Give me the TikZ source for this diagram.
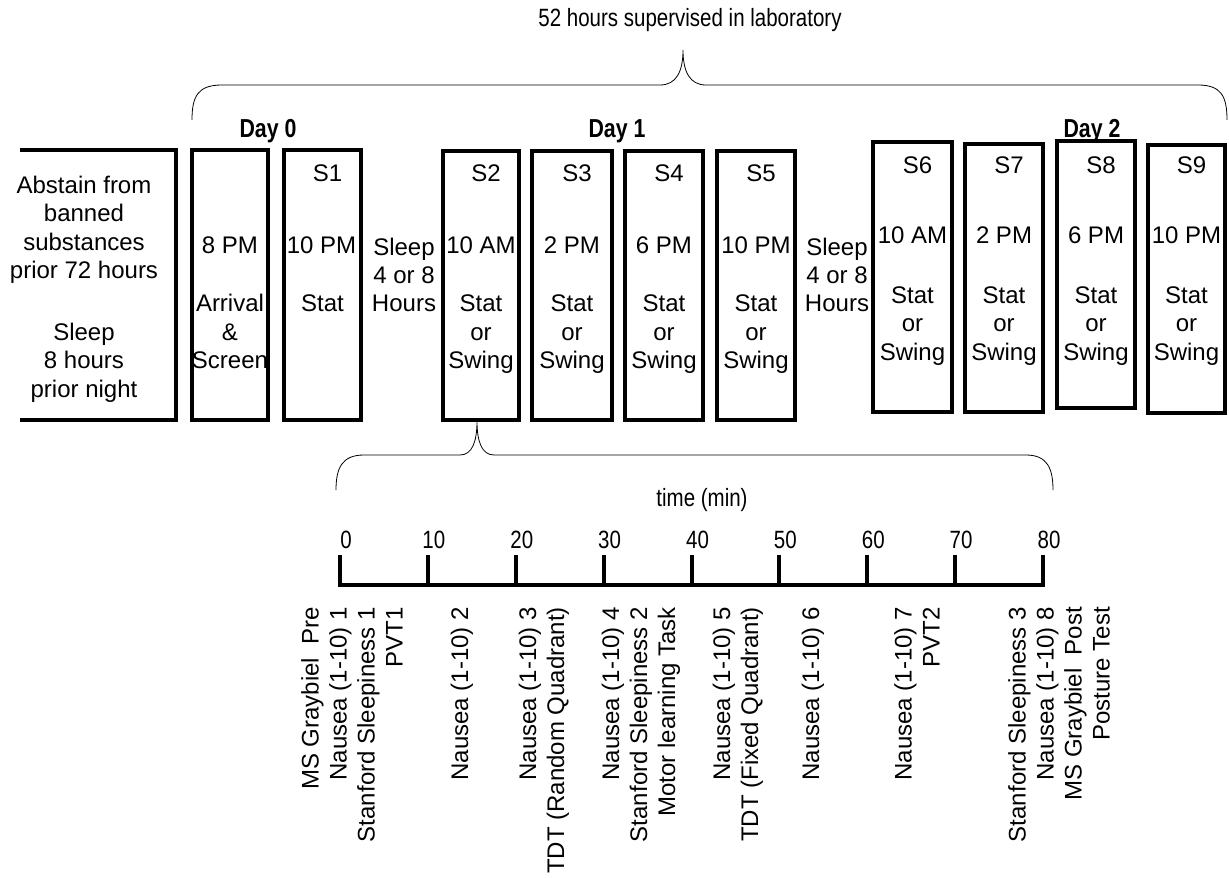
\documentclass[tikz,border=0pt]{standalone}
\usepackage{fontspec}
\setmainfont{Liberation Sans}
\newfontfamily\narrowfont[FakeStretch=0.82]{Liberation Sans}
\begin{document}
\begin{tikzpicture}[x=1pt,y=-1pt,
  sbox/.style={draw, line width=4pt, inner sep=0pt},
  txt/.style={inner sep=0pt, anchor=base, font=\fontsize{24}{28}\selectfont},
  nar/.style={inner sep=0pt, anchor=base, font=\narrowfont\fontsize{25}{28}\selectfont},
  dayl/.style={inner sep=0pt, anchor=base, font=\narrowfont\bfseries\fontsize{26}{28}\selectfont},
  rlab/.style={inner sep=0pt, rotate=90, anchor=east, align=right, font=\fontsize{24}{28}\selectfont},
  brace/.style={line width=0.8pt},
  tickline/.style={line width=4pt}]
\useasboundingbox (0,0) rectangle (1229,878);

% title and upper brace
\node[nar, font=\narrowfont\fontsize{25}{28}\selectfont] (title) at (690,27) {52 hours supervised in laboratory};
\coordinate (utip) at (683,50);
\draw[brace] (192,120) .. controls (192,96) and (198,85) .. (222,85) -- (660,85)
  .. controls (676,85) and (683,72) .. (utip)
  .. controls (683,72) and (690,85) .. (706,85) -- (1198,85)
  .. controls (1221,85) and (1227,96) .. (1227,120);

% day labels
\node[dayl] (day0) at (268,137) {Day 0};
\node[dayl] (day1) at (617,137) {Day 1};
\node[dayl] (day2) at (1092,137) {Day 2};

% pre-study box (open on the left)
\draw[line width=4pt] (20,150) -- (176,150) -- (176,420) -- (20,420);
\foreach \t [count=\i] in {Abstain from, banned, substances, prior 72 hours}
  \node[txt] (pre-\i) at (84,{193+28.5*(\i-1)}) {\t};
\foreach \t [count=\i] in {Sleep, 8 hours, prior night}
  \node[txt] (pn-\i) at (84,{340+28.5*(\i-1)}) {\t};

% arrival box
\node[sbox, minimum width=76pt, minimum height=270pt] (b0) at (230,285) {};
\node[txt] (b0-tm) at (230,253) {8 PM};
\node[txt] (b0-a) at (230,311) {Arrival};
\node[txt] (b0-b) at (230,340) {\&};
\node[txt] (b0-c) at (230,368) {Screen};

% S1
\node[sbox, minimum width=77pt, minimum height=270pt] (s1) at (322.5,285) {};
\node[txt] (s1-id) at (327.5,181) {S1};
\node[txt] (s1-tm) at (321.5,253) {10 PM};
\node[txt] (s1-a) at (322.5,311) {Stat};

% sleep 1
\foreach \t [count=\i] in {Sleep, 4 or 8, Hours}
  \node[txt] (sl1-\i) at (404,{255+28*(\i-1)}) {\t};

% Day 1 sessions
\foreach \nm/\x/\w/\s/\tm in {s2/481/76/S2/10 AM, s3/572/80/S3/2 PM, s4/664/78/S4/6 PM, s5/756/78/S5/10 PM} {
  \node[sbox, minimum width=\w pt, minimum height=269pt] (\nm) at (\x,285.5) {};
  \node[txt] (\nm-id) at ({\x+5},181) {\s};
  \node[txt] (\nm-tm) at (\x,253) {\tm};
  \node[txt] (\nm-a) at (\x,311) {Stat};
  \node[txt] (\nm-b) at (\x,340) {or};
  \node[txt] (\nm-c) at (\x,368) {Swing};
}

% sleep 2
\foreach \t [count=\i] in {Sleep, 4 or 8, Hours}
  \node[txt] (sl2-\i) at (837,{255+28*(\i-1)}) {\t};

% Day 2 sessions
\foreach \nm/\x/\y/\w/\h/\s/\tm in {s6/912.5/277/79/270/S6/10 AM, s7/1004/278/78/268/S7/2 PM, s8/1096/274.5/78/267/S8/6 PM, s9/1186.5/279/77/268/S9/10 PM} {
  \node[sbox, minimum width=\w pt, minimum height=\h pt] (\nm) at (\x,\y) {};
  \node[txt] (\nm-id) at ({\x+5},173) {\s};
  \node[txt] (\nm-tm) at (\x,243) {\tm};
  \node[txt] (\nm-a) at (\x,303) {Stat};
  \node[txt] (\nm-b) at (\x,331) {or};
  \node[txt] (\nm-c) at (\x,360) {Swing};
}

% lower brace
\coordinate (ltip) at (477,421);
\draw[brace] (336,490) .. controls (336,468) and (342,455) .. (364,455) -- (460,455)
  .. controls (472,455) and (477,442) .. (ltip)
  .. controls (477,442) and (482,455) .. (494,455) -- (1026,455)
  .. controls (1047,455) and (1053,468) .. (1053,490);
\node[nar] (timelab) at (702,506) {time (min)};

% time axis
\foreach \i in {0,...,8} {
  \coordinate (t\i) at ({340+87.875*\i},555);
  \pgfmathtruncatemacro{\lab}{10*\i}
  \node[nar] (n\i) at ({346+87.875*\i},548) {\lab};
}
\draw[tickline, line join=miter] (t0) -- (340,585) -- (1043,585) -- (t8);
\foreach \i in {1,...,7}
  \draw[tickline] (t\i) -- ++(0,31);

% measurement labels
\node[rlab] (g1) at (352,607) {MS Graybiel~~Pre\\Nausea (1-10) 1\\Stanford Sleepiness 1\\PVT1};
\node[rlab] (g2) at (462,607) {Nausea (1-10) 2};
\node[rlab] (g3) at (544,607) {Nausea (1-10) 3\\TDT (Random Quadrant)};
\node[rlab] (g4) at (641,607) {Nausea (1-10) 4\\Stanford Sleepiness 2\\Motor learning Task};
\node[rlab] (g5) at (738,607) {Nausea (1-10) 5\\TDT (Fixed Quadrant)};
\node[rlab] (g6) at (813,607) {Nausea (1-10) 6};
\node[rlab] (g7) at (917,607) {Nausea (1-10) 7\\PVT2};
\node[rlab] (g8) at (1059,607) {Stanford Sleepiness 3\\Nausea (1-10) 8\\MS Graybiel~~Post\\Posture Test};
\end{tikzpicture}
\end{document}
